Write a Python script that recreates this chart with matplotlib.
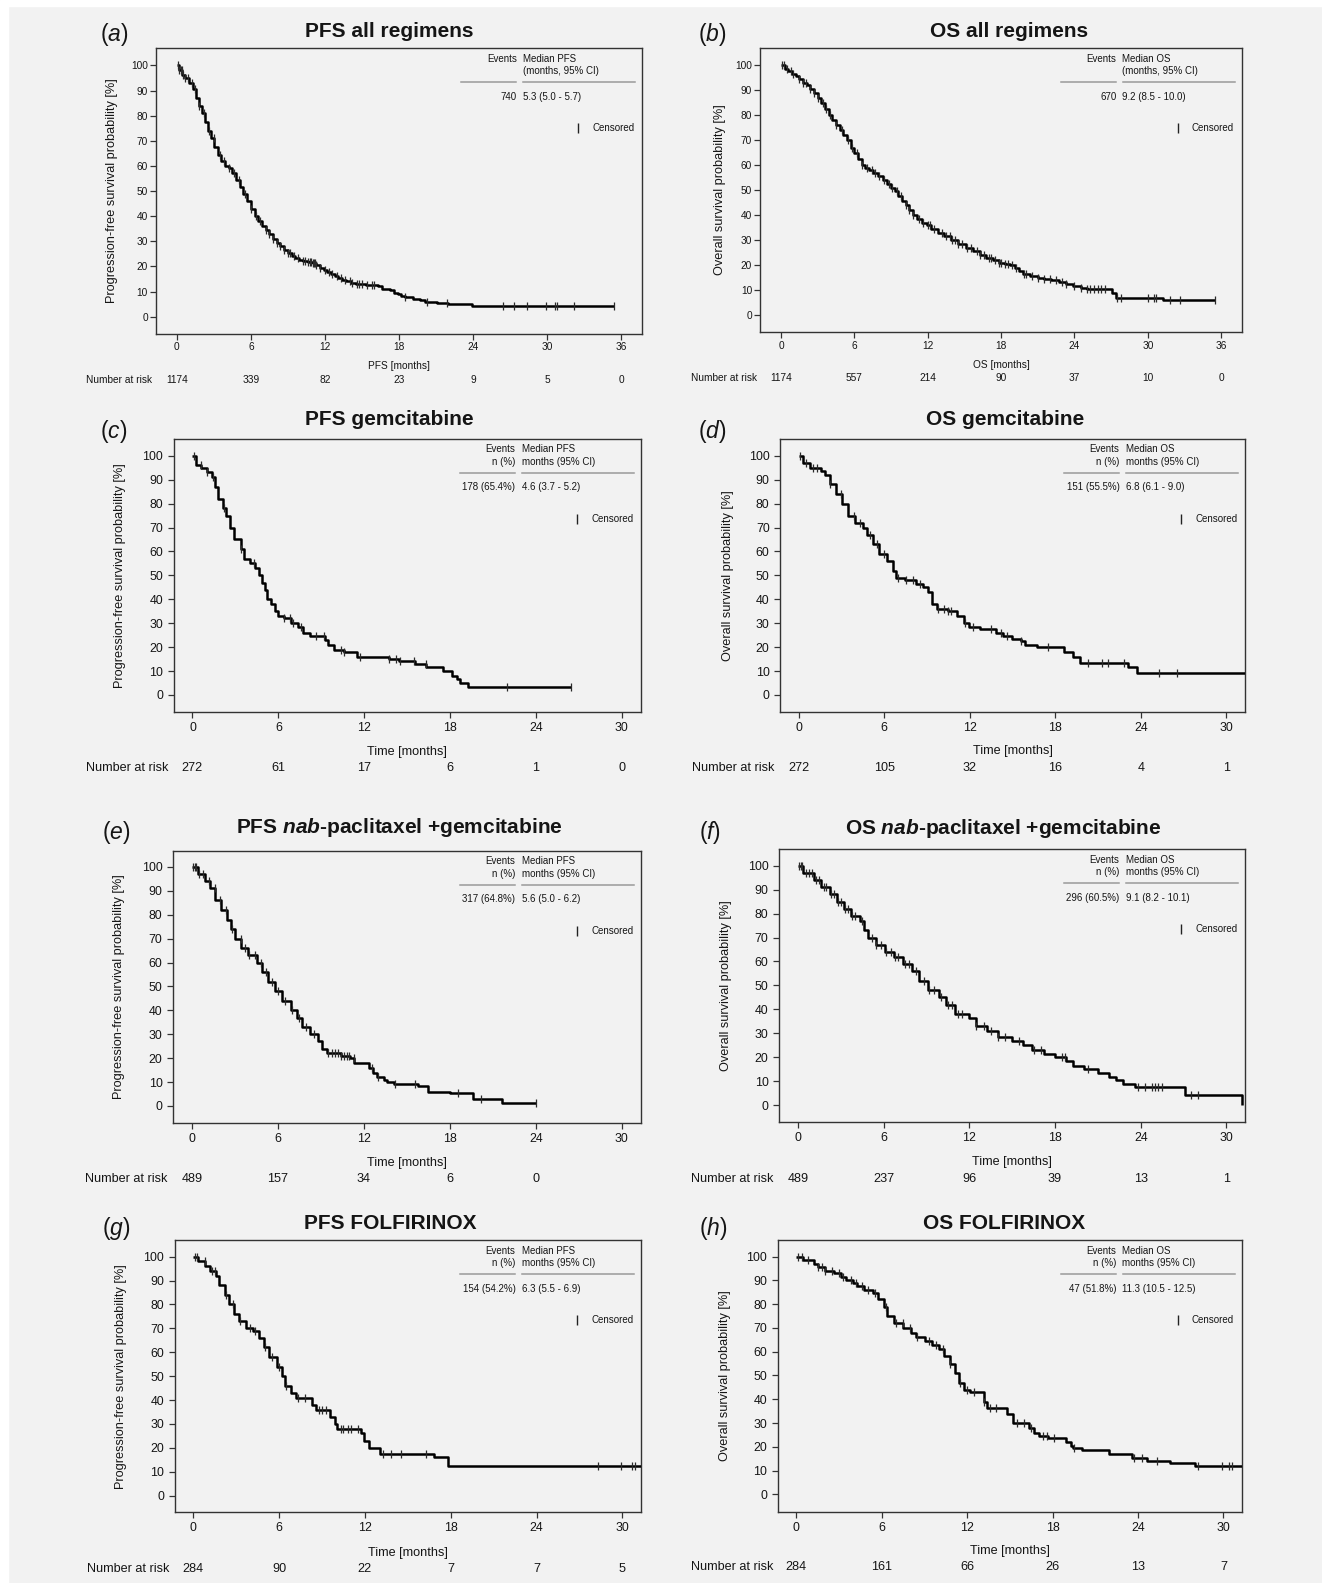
import numpy as np
import matplotlib
matplotlib.use('Agg')
import matplotlib.pyplot as plt
from matplotlib.patches import Rectangle
from matplotlib.lines import Line2D
from matplotlib.transforms import blended_transform_factory

plt.rcParams['font.family'] = ['Liberation Sans', 'DejaVu Sans']
plt.rcParams['mathtext.fontset'] = 'custom'
plt.rcParams['mathtext.rm'] = 'Liberation Sans'
plt.rcParams['mathtext.it'] = 'Liberation Sans:italic'
plt.rcParams['mathtext.bf'] = 'Liberation Sans:bold'
plt.rcParams['mathtext.bfit'] = 'Liberation Sans:italic:bold'

# ------------------------------------------------------------------ DATA
# (a) PFS all regimens
a_time = [0, 0.2, 0.45, 0.7, 1.0, 1.3, 1.55, 1.8, 2.05, 2.3, 2.55, 2.8, 3.05, 3.3, 3.6, 3.9, 4.2, 4.5, 4.8,
          5.1, 5.4, 5.7, 6.0, 6.3, 6.6, 6.9, 7.2, 7.5, 7.8, 8.1, 8.4, 8.7, 9.0, 9.3, 9.6, 9.9, 10.2, 10.6,
          11.0, 11.3, 11.6, 11.9, 12.2, 12.5, 12.8, 13.1, 13.4, 13.7, 14.1, 14.5, 15.3, 16.3, 16.6, 17.3,
          17.6, 17.9, 18.2, 18.5, 19.1, 19.7, 20.1, 21.1, 22.0, 23.9, 35.4]
a_surv = [100, 98, 96, 95, 93, 90.5, 87, 84, 81, 77.5, 74, 71, 67.5, 64.5, 62, 60, 59, 57, 54.5,
          51.5, 49, 46, 43, 40, 38, 36, 34.5, 33, 31, 29.5, 28, 26.5, 25.5, 24.2, 23.2, 22.5, 22, 21.7,
          21.3, 20.5, 19.5, 18.7, 17.7, 16.8, 16, 15.2, 14.5, 14, 13.5, 13, 12.7, 12.3, 11, 10.5,
          9.5, 9, 8.3, 7.8, 7, 6.5, 6, 5.6, 5, 4.2, 4.2]
a_cens = [0.1, 0.2, 0.3, 0.4, 0.5, 0.7, 0.9, 1.2, 1.5, 1.8, 2.2, 2.6, 3.0, 3.5, 3.8, 4.2, 4.6, 5.0, 5.5,
          6.0, 6.4, 6.7, 7.2, 7.5, 7.8, 8.1, 8.4, 8.7, 9.0, 9.2, 9.5, 9.8, 10.2, 10.4, 10.6, 10.8, 10.9,
          11.0, 11.1, 11.2, 11.3, 11.6, 12.0, 12.3, 12.6, 13.0, 13.3, 13.6, 14.0, 14.2, 14.6, 14.8, 15.0,
          15.4, 15.8, 16.0, 18.5, 20.3, 21.9, 26.45, 27.3, 28.35, 29.9, 30.65, 30.8, 32.2, 35.4]
a_risk = [1174, 339, 82, 23, 9, 5, 0]

# (b) OS all regimens
b_time = [0, 0.3, 0.6, 0.9, 1.2, 1.5, 1.8, 2.1, 2.4, 2.7, 3.0, 3.3, 3.6, 3.9, 4.2, 4.5, 4.8, 5.1, 5.4,
          5.7, 6.0, 6.3, 6.6, 6.9, 7.2, 7.5, 7.9, 8.3, 8.7, 9.0, 9.3, 9.6, 9.9, 10.2, 10.5, 10.8, 11.1,
          11.5, 11.9, 12.3, 12.8, 13.3, 13.9, 14.5, 15.1, 15.7, 16.3, 16.8, 17.3, 17.8, 18.3, 18.7,
          19.1, 19.5, 19.8, 20.4, 21.0, 21.5, 22.1, 22.7, 23.3, 23.9, 24.5, 25.0, 27.1, 27.4, 31.2, 35.5]
b_surv = [100, 98.5, 97.5, 96.5, 95.5, 94.5, 93, 92, 90.5, 89, 87, 85, 82.5, 80, 78, 76, 74, 72, 70,
          67, 65, 62.5, 60, 59, 58, 57, 55.5, 54, 52.5, 51, 49.5, 47.5, 45.5, 44, 42, 40, 38.5,
          37, 36, 34.5, 33, 31.5, 30, 28.5, 27, 25.5, 24, 23, 22, 21, 20.5, 20,
          19, 17.5, 16.5, 15.7, 15, 14.5, 14, 13.2, 12.5, 11.7, 11, 10.5, 9, 7, 6, 6]
b_cens = [0.1, 0.2, 0.5, 0.8, 1.0, 1.5, 1.8, 2.0, 2.4, 2.7, 3.0, 3.4, 3.7, 4.0, 4.5, 5.0, 5.5, 5.8,
          6.2, 6.6, 7.0, 7.4, 7.7, 8.0, 8.4, 8.8, 9.1, 9.5, 9.8, 10.2, 10.5, 10.8, 11.3, 11.6, 12.0,
          12.2, 12.5, 13.2, 13.5, 13.8, 14.0, 14.2, 14.5, 14.8, 15.2, 15.5, 16.0, 16.3, 16.6, 17.0,
          17.2, 17.5, 17.8, 18.0, 18.3, 18.6, 18.9, 19.2, 19.9, 20.0, 20.5, 21.0, 21.5, 22.0, 22.5,
          23.0, 23.3, 24.0, 24.5, 25.0, 25.3, 25.6, 25.9, 26.2, 26.5, 27.5, 27.8, 30.0, 30.5, 30.7,
          31.8, 32.6, 35.5]
b_risk = [1174, 557, 214, 90, 37, 10, 0]

# (c) PFS gemcitabine
c_time = [0, 0.25, 0.62, 1.0, 1.37, 1.57, 1.75, 2.12, 2.37, 2.62, 2.92, 3.37, 3.57, 3.99, 4.37, 4.62,
          4.87, 5.07, 5.24, 5.49, 5.74, 5.99, 6.36, 6.86, 7.36, 7.74, 8.24, 9.23, 9.48, 9.86, 10.6,
          11.48, 13.7, 14.4, 15.52, 16.35, 17.47, 18.1, 18.47, 18.72, 19.22, 26.45]
c_surv = [100, 96, 95, 93, 91, 87, 82, 78, 75, 70, 65, 61, 57, 55, 53, 50,
          47, 44, 40, 38, 35, 33, 32, 30, 28.5, 26, 24.5, 23, 21, 19, 18,
          16, 15, 14, 13, 11.5, 10, 8, 6.5, 5, 3.3, 3.3]
c_cens = [0.1, 0.6, 1.0, 1.4, 2.2, 3.4, 4.3, 6.4, 6.8, 7.0, 7.6, 8.6, 9.2, 10.4, 10.6, 11.7, 13.7,
          14.2, 14.5, 15.5, 16.3, 22.0, 26.45]
c_risk = [272, 61, 17, 6, 1, 0]

# (d) OS gemcitabine
d_time = [0, 0.33, 0.83, 1.58, 1.83, 2.2, 2.65, 3.08, 3.46, 3.96, 4.51, 4.83, 5.21, 5.63, 6.21, 6.59,
          6.84, 7.46, 8.21, 8.72, 9.09, 9.34, 9.72, 10.47, 11.09, 11.6, 11.97, 12.72, 13.85, 14.35,
          14.98, 15.6, 15.85, 16.73, 18.61, 19.23, 19.73, 23.1, 23.74, 31.5]
d_surv = [100, 97, 95, 93.5, 92, 88, 84, 80, 75, 72, 70, 67, 63, 59, 56, 52,
          49, 48, 46.5, 45, 43, 38, 36, 35, 33, 30, 28.5, 27.5, 26, 24.5,
          23.5, 22.5, 21, 20, 18, 16, 13.5, 11.5, 9, 9]
d_cens = [0.1, 0.5, 1.0, 1.3, 2.2, 3.0, 3.9, 4.3, 5.0, 5.5, 6.0, 7.0, 7.5, 8.0, 8.5, 9.8, 10.2, 10.5,
          10.7, 11.7, 12.2, 13.5, 14.2, 14.6, 15.6, 17.5, 20.3, 21.3, 21.7, 22.8, 25.3, 26.5]
d_risk = [272, 105, 32, 16, 4, 1]

# (e) PFS nab-paclitaxel + gemcitabine
e_time = [0, 0.42, 0.92, 1.3, 1.62, 2.04, 2.42, 2.72, 3.04, 3.42, 3.92, 4.54, 4.91, 5.29, 5.79, 6.28,
          6.91, 7.36, 7.66, 8.28, 8.78, 9.1, 9.4, 10.4, 11.02, 11.35, 12.39, 12.64, 12.89, 13.39,
          13.64, 14.14, 15.76, 16.5, 18.0, 19.63, 21.62, 23.99]
e_surv = [100, 97, 94, 91, 86, 82, 78, 74, 70, 66, 63, 60, 56, 52, 48, 44,
          40, 37, 33, 30, 27, 24, 22, 21, 20, 18, 16, 14, 12, 11,
          10, 9.3, 8.3, 6, 5.3, 3, 1.4, 1.4]
e_cens = [0.1, 0.2, 0.3, 0.5, 0.8, 1.2, 1.6, 2.0, 2.4, 2.8, 3.4, 3.7, 4.0, 4.4, 4.8, 5.2, 5.6, 6.0,
          6.5, 7.0, 7.5, 8.0, 8.5, 9.5, 9.8, 10.0, 10.2, 10.4, 10.6, 10.8, 11.0, 11.3, 12.6, 13.0,
          14.2, 15.6, 18.6, 20.2, 24.0]
e_risk = [489, 157, 34, 6, 0]

# (f) OS nab-paclitaxel + gemcitabine
f_time = [0, 0.38, 1.13, 1.63, 2.25, 2.75, 3.25, 3.75, 4.38, 4.63, 4.88, 5.5, 6.13, 6.75, 7.38, 8.0,
          8.5, 9.13, 9.88, 10.38, 11.0, 12.0, 12.5, 13.25, 14.0, 15.0, 15.75, 16.38, 17.25, 18.0,
          18.75, 19.25, 20.0, 21.0, 21.75, 22.25, 22.75, 23.63, 27.13, 31.1]
f_surv = [100, 97, 94, 91, 88, 85, 82, 79, 77, 73, 70, 67, 64, 62, 59, 56,
          52, 48, 45, 42, 38, 36.5, 33, 31, 28.5, 27, 25, 23, 21.5, 20,
          18.5, 16.5, 15, 13.5, 12, 10.5, 9, 7.5, 4.4, 0]
f_cens = [0.1, 0.2, 0.3, 0.6, 0.8, 1.0, 1.3, 1.5, 1.8, 2.0, 2.3, 2.5, 2.8, 3.0, 3.3, 3.5, 3.8, 4.0,
          4.5, 5.2, 5.5, 5.8, 6.2, 6.5, 6.8, 7.0, 7.5, 7.8, 8.3, 8.8, 9.2, 9.5, 10.0, 10.5, 10.8,
          11.2, 11.5, 12.5, 13.0, 13.5, 14.0, 14.5, 15.5, 16.5, 17.0, 18.5, 18.7, 20.3, 23.8, 24.3,
          24.8, 25.0, 25.2, 25.5, 27.5, 28.0]
f_risk = [489, 237, 96, 39, 13, 1]

# (g) PFS FOLFIRINOX
g_time = [0, 0.33, 0.83, 1.2, 1.58, 1.83, 2.2, 2.53, 2.83, 3.2, 3.7, 4.2, 4.58, 4.95, 5.33, 5.83, 6.2,
          6.45, 6.83, 7.2, 8.28, 8.58, 9.58, 9.88, 10.08, 11.7, 11.95, 12.28, 13.08, 16.83, 17.78, 31.5]
g_surv = [100, 98, 96, 94, 92, 88, 84, 80, 76, 73, 70, 69, 66, 62, 58, 54, 50,
          46, 43, 41, 38, 36, 33, 30, 28, 26, 23, 20, 17.5, 16, 12.3, 12.3]
g_cens = [0.1, 0.3, 0.8, 1.3, 1.5, 2.3, 2.8, 3.3, 4.0, 4.3, 5.0, 5.5, 6.0, 6.5, 7.3, 7.8, 8.8, 9.0,
          9.3, 10.3, 10.5, 10.8, 11.0, 11.5, 13.3, 13.8, 14.5, 16.3, 28.3, 29.9, 30.7, 30.9]
g_risk = [284, 90, 22, 7, 7, 5]

# (h) OS FOLFIRINOX
h_time = [0, 0.48, 1.23, 1.48, 1.98, 2.61, 3.12, 3.49, 4.0, 4.25, 4.75, 5.38, 5.75, 6.13, 6.38, 6.88,
          7.51, 8.02, 8.39, 9.02, 9.52, 10.03, 10.4, 10.78, 11.16, 11.41, 11.78, 12.16, 13.17, 13.42,
          14.8, 15.18, 16.31, 16.68, 17.06, 17.69, 18.94, 19.32, 19.45, 20.08, 21.96, 23.59, 24.6,
          26.23, 27.99, 31.5]
h_surv = [100, 98.5, 97, 95.5, 94, 93, 91.5, 90, 89, 87.5, 86, 84.5, 82, 79, 75, 72,
          70, 68, 66, 64.5, 63, 61, 58, 55, 51, 47, 44, 43, 39, 36.5,
          34, 30, 28, 26, 24.5, 23.5, 22, 20.5, 19.5, 18.5, 16.8, 15.5, 14.2,
          13, 11.8, 11.8]
h_cens = [0.1, 0.4, 0.8, 1.5, 1.8, 2.0, 2.5, 3.0, 3.3, 3.8, 4.2, 4.6, 5.0, 5.5, 6.3, 7.0, 7.5, 8.0,
          8.5, 9.3, 9.8, 10.3, 10.8, 11.5, 12.0, 12.5, 13.2, 13.6, 14.0, 15.5, 16.0, 16.5, 17.3, 17.6,
          18.1, 19.5, 23.7, 24.3, 25.3, 28.2, 29.9, 30.4, 30.6]
h_risk = [284, 161, 66, 26, 13, 7]

titles = {
    'a': 'PFS all regimens', 'b': 'OS all regimens',
    'c': 'PFS gemcitabine', 'd': 'OS gemcitabine',
    'e': r'PFS $\mathbfit{nab}$-paclitaxel +gemcitabine',
    'f': r'OS $\mathbfit{nab}$-paclitaxel +gemcitabine',
    'g': 'PFS FOLFIRINOX', 'h': 'OS FOLFIRINOX',
}
events = {'a': '740', 'b': '670', 'c': '178 (65.4%)', 'd': '151 (55.5%)',
          'e': '317 (64.8%)', 'f': '296 (60.5%)', 'g': '154 (54.2%)', 'h': '47 (51.8%)'}
medians = {'a': '5.3 (5.0 - 5.7)', 'b': '9.2 (8.5 - 10.0)', 'c': '4.6 (3.7 - 5.2)',
           'd': '6.8 (6.1 - 9.0)', 'e': '5.6 (5.0 - 6.2)', 'f': '9.1 (8.2 - 10.1)',
           'g': '6.3 (5.5 - 6.9)', 'h': '11.3 (10.5 - 12.5)'}
xticks_all = [0, 6, 12, 18, 24, 30, 36]
xticks_reg = [0, 6, 12, 18, 24, 30]

DATA = {
    'a': (a_time, a_surv, a_cens, a_risk), 'b': (b_time, b_surv, b_cens, b_risk),
    'c': (c_time, c_surv, c_cens, c_risk), 'd': (d_time, d_surv, d_cens, d_risk),
    'e': (e_time, e_surv, e_cens, e_risk), 'f': (f_time, f_surv, f_cens, f_risk),
    'g': (g_time, g_surv, g_cens, g_risk), 'h': (h_time, h_surv, h_cens, h_risk),
}

# ------------------------------------------------------------------ LAYOUT (pixels)
W, H = 1322, 1583
DPI = 100
TXT = '#151515'
FRAME = '#333333'

LAY = {
    'a': dict(fr=(156.1, 48.3, 642.3, 333.5), xl=(-1.68, 37.72), yl=(-6.7, 106.8), ti=(389.6, 31.7),
              lb=(100.5, 34), yx=112, nx=86.4, rows=(366, 380), small=True),
    'b': dict(fr=(760.4, 48.3, 1242, 332.3), xl=(-1.69, 37.7), yl=(-6.9, 106.7), ti=(1008.6, 31.7),
              lb=(698, 34), yx=720, nx=690.7, rows=(365, 378.3), small=True),
    'c': dict(fr=(173.6, 439, 641, 711.7), xl=(-1.32, 31.34), yl=(-7.0, 107.0), ti=(389, 419.3),
              lb=(100, 431.5), yx=120, nx=86.4, rows=(751.7, 768.3), small=False),
    'd': dict(fr=(780, 439, 1245, 711.7), xl=(-1.30, 31.3), yl=(-7.0, 107.0), ti=(1005, 419.3),
              lb=(698, 431.5), yx=728.2, nx=692.5, rows=(751, 767.7), small=False),
    'e': dict(fr=(172.9, 850.7, 641, 1122.7), xl=(-1.32, 31.34), yl=(-7.0, 106.8), ti=(399.6, 827.3),
              lb=(102, 832), yx=119.3, nx=85, rows=(1163, 1178.6), small=False),
    'f': dict(fr=(778.9, 849.3, 1245, 1122.3), xl=(-1.33, 31.3), yl=(-7.1, 106.8), ti=(1003, 828.3),
              lb=(699.5, 832.5), yx=726.4, nx=691, rows=(1161.7, 1178.6), small=False),
    'g': dict(fr=(174.6, 1240, 641, 1512.3), xl=(-1.30, 31.3), yl=(-7.0, 107.0), ti=(390.7, 1223.3),
              lb=(101.5, 1229), yx=121, nx=87, rows=(1552.7, 1569), small=False),
    'h': dict(fr=(777.5, 1240, 1242, 1511.7), xl=(-1.33, 31.3), yl=(-7.3, 107.0), ti=(1004, 1223.3),
              lb=(699, 1229), yx=724.6, nx=690.7, rows=(1551, 1567.3), small=False),
}


def fx(x):
    return x / W


def fy(y):
    return 1 - y / H


fig = plt.figure(figsize=(W / DPI, H / DPI), dpi=DPI, facecolor='#f2f2f2')
fig.add_artist(Rectangle((0, 0), 8 / W, 1, transform=fig.transFigure, color='white', zorder=0))
fig.add_artist(Rectangle((0, 1 - 6 / H), 1, 6 / H, transform=fig.transFigure, color='white', zorder=0))

for key in 'abcdefgh':
    t, s, cens, risk = DATA[key]
    L = LAY[key]
    l, tp, r, b = L['fr']
    small = L['small']
    is_pfs = titles[key].startswith('PFS')
    ax = fig.add_axes([fx(l), fy(b), (r - l) / W, (b - tp) / H])
    ax.set_facecolor('none')
    t = np.asarray(t, float)
    s = np.asarray(s, float)
    ax.step(t, s, where='post', color='black', lw=1.8, zorder=3, solid_capstyle='butt')
    c = np.asarray(cens, float)
    idx = np.clip(np.searchsorted(t, c, side='right') - 1, 0, len(s) - 1)
    ax.plot(c, s[idx], ls='none', marker='|', ms=6.0, mew=0.9, color='#2a2a2a', zorder=4)
    ax.set_xlim(*L['xl'])
    ax.set_ylim(*L['yl'])
    xt = xticks_all if key in 'ab' else xticks_reg
    ax.set_xticks(xt)
    ax.set_yticks(range(0, 101, 10))
    fs_tick = 7.3 if small else 8.9
    fs_row = 7.3 if small else 9.1
    ax.tick_params(axis='x', direction='out', length=4.5, width=0.9, color=FRAME,
                   labelsize=fs_tick, labelcolor=TXT, pad=1.6 if small else 2.8)
    ax.tick_params(axis='y', direction='out', length=4.5, width=0.9, color=FRAME,
                   labelsize=fs_tick, labelcolor=TXT, pad=1.5 if small else 3.0)
    for sp in ax.spines.values():
        sp.set_color(FRAME)
        sp.set_linewidth(1.0)

    # title and panel label
    fig.text(fx(L['ti'][0]), fy(L['ti'][1]), titles[key], ha='center', va='center',
             fontsize=15, fontweight='bold', color=TXT)
    fig.text(fx(L['lb'][0]), fy(L['lb'][1]), '($\\mathit{%s}$)' % key, ha='left', va='center',
             fontsize=16.5, color=TXT)

    # y label
    y100 = ax.transData.transform((0, 100))[1]
    y0 = ax.transData.transform((0, 0))[1]
    ylab = 'Progression-free survival probability [%]' if is_pfs else 'Overall survival probability [%]'
    fig.text(fx(L['yx']), (y100 + y0) / 2 / H, ylab, rotation=90, ha='center', va='center',
             fontsize=9.2, color=TXT)

    # x label and number at risk
    bt = blended_transform_factory(ax.transData, fig.transFigure)
    if key == 'a':
        xlab = 'PFS [months]'
    elif key == 'b':
        xlab = 'OS [months]'
    else:
        xlab = 'Time [months]'
    ax.text((xt[0] + xt[-1]) / 2, fy(L['rows'][0]), xlab, transform=bt, ha='center', va='center',
            fontsize=fs_row, color=TXT)
    fig.text(fx(L['nx']), fy(L['rows'][1]), 'Number at risk', ha='left', va='center',
             fontsize=fs_row, color=TXT)
    for tk, n in zip(xt, risk):
        ax.text(tk, fy(L['rows'][1]), str(n), transform=bt, ha='center', va='center',
                fontsize=fs_row, color=TXT)

    # legend table (top right of the frame)
    word = 'PFS' if is_pfs else 'OS'
    fsl = 7.0
    ev_x = r - 125.5
    md_x = r - 119.5
    fig.text(fx(ev_x), fy(tp + 10.5), 'Events', ha='right', va='center', fontsize=fsl, color=TXT)
    fig.text(fx(md_x), fy(tp + 10.5), 'Median ' + word, ha='left', va='center', fontsize=fsl, color=TXT)
    if key in 'ab':
        fig.text(fx(md_x), fy(tp + 23), '(months, 95% CI)', ha='left', va='center', fontsize=fsl, color=TXT)
    else:
        fig.text(fx(ev_x), fy(tp + 23), 'n (%)', ha='right', va='center', fontsize=fsl, color=TXT)
        fig.text(fx(md_x), fy(tp + 23), 'months (95% CI)', ha='left', va='center', fontsize=fsl, color=TXT)
    fig.add_artist(Line2D([fx(r - 181), fx(r - 126)], [fy(tp + 34)] * 2, color='#9a9a9a', lw=1.1))
    fig.add_artist(Line2D([fx(r - 119.5), fx(r - 7)], [fy(tp + 34)] * 2, color='#9a9a9a', lw=1.1))
    fig.text(fx(ev_x), fy(tp + 48.5), events[key], ha='right', va='center', fontsize=fsl, color=TXT)
    fig.text(fx(md_x), fy(tp + 48.5), medians[key], ha='left', va='center', fontsize=fsl, color=TXT)
    fig.add_artist(Line2D([fx(r - 64)], [fy(tp + 80)], ls='none', marker='|', ms=6.5, mew=1.0,
                          color='#222222'))
    fig.text(fx(r - 50), fy(tp + 80), 'Censored', ha='left', va='center', fontsize=fsl, color=TXT)

fig.savefig('out.png', dpi=DPI, facecolor=fig.get_facecolor())
